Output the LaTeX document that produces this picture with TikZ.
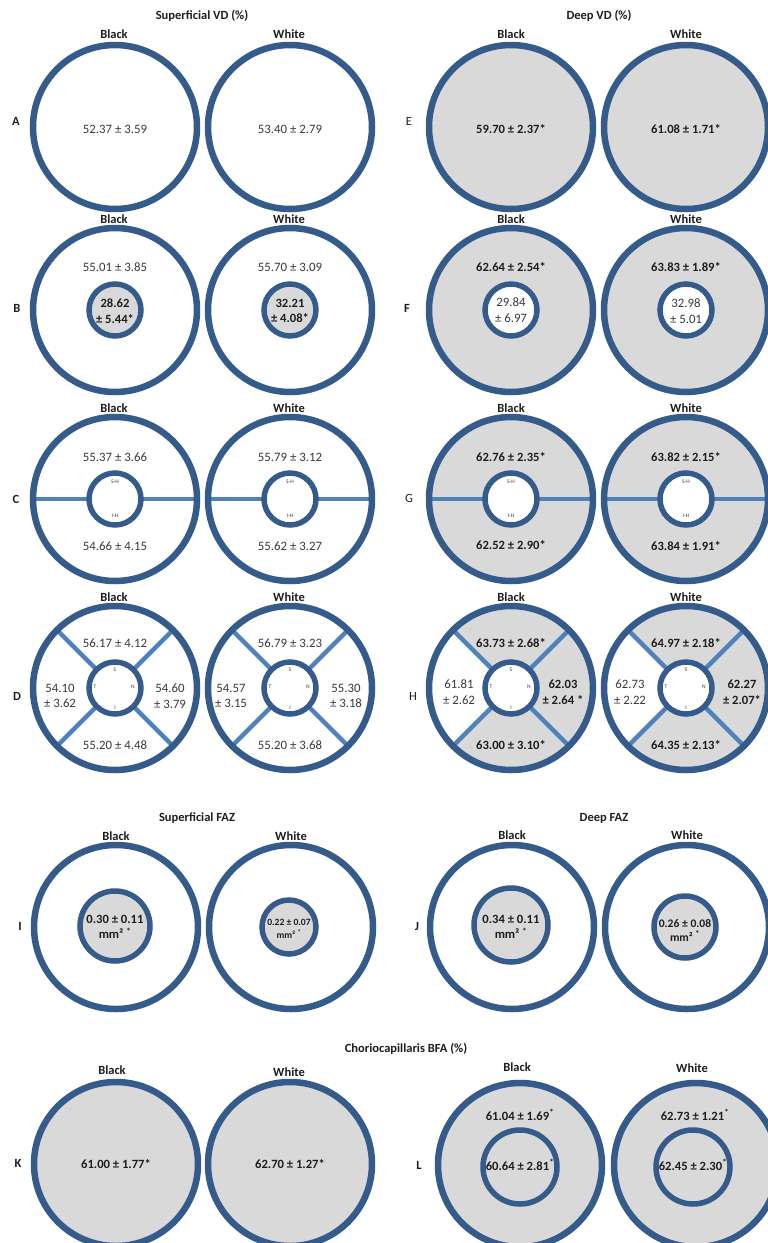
\documentclass[tikz,border=0pt]{standalone}
\usepackage{fontspec}
\setmainfont{Carlito}
\definecolor{ringblue}{HTML}{355B8A}
\definecolor{lineblue}{HTML}{4F81BD}
\definecolor{fillgray}{HTML}{D9D9D9}
\definecolor{txtgray}{HTML}{3A3A3A}
\definecolor{txtdark}{HTML}{1E1E1E}
\tikzset{
  outer/.style={draw=ringblue, line width=6.5pt},
  inner/.style={draw=ringblue, line width=5.5pt},
  divider/.style={draw=lineblue, line width=4.5pt},
  val/.style={font=\fontsize{12.8}{15.5}\selectfont, text=txtgray, align=center, inner sep=0pt},
  bval/.style={font=\fontsize{12.6}{15.5}\selectfont\bfseries, text=txtdark, align=center, inner sep=0pt},
  hdr/.style={font=\fontsize{12.5}{14}\selectfont\bfseries, text=txtdark, inner sep=0pt},
  rowlab/.style={font=\fontsize{12.5}{14}\selectfont\bfseries, text=txtdark, inner sep=0pt},
  rowlabreg/.style={font=\fontsize{12.5}{14}\selectfont, text=txtdark, inner sep=0pt},
  mini/.style={font=\fontsize{5.5}{6}\selectfont, text=txtgray, inner sep=0pt}
}
\newcommand\disk[3]{\fill[#3] (#1,#2) circle[radius=82pt];}
\newcommand\rim[2]{\draw[outer] (#1,#2) circle[radius=82pt];}
\newcommand\hub[4]{\draw[inner,fill=#4] (#1,#2) circle[radius=#3pt];}
\newcommand\hsplit[2]{\draw[divider] (#1-80,#2) -- (#1+80,#2);}
\newcommand\xlines[2]{\draw[divider] (#1,#2) ++(45:80pt) -- ++(225:160pt);
  \draw[divider] (#1,#2) ++(135:80pt) -- ++(-45:160pt);}
\newcommand\temporal[2]{\fill[white] (#1,#2) -- ++(135:82pt) arc[start angle=135, end angle=225, radius=82pt] -- cycle;}
\begin{document}
\begin{tikzpicture}[x=1pt,y=-1pt]
\useasboundingbox (0,0) rectangle (768,1243);
\fill[white] (0,0) rectangle (768,1243);

% ---------- headings ----------
\node[hdr] (tSVD) at (202,16) {Superficial VD (\%)};
\node[hdr] (tDVD) at (599,16) {Deep VD (\%)};
\node[hdr] (tSFAZ) at (197,818) {Superficial FAZ};
\node[hdr] (tDFAZ) at (604,818) {Deep FAZ};
\node[hdr] (tBFA) at (406,1049) {Choriocapillaris BFA (\%)};

% Black / White labels
\foreach \yy/\nm in {34/a,219/b,408/c,597/d}{
  \node[hdr] (bl\nm) at (114,\yy) {Black};
  \node[hdr] (wl\nm) at (289,\yy) {White};
  \node[hdr] (br\nm) at (511,\yy) {Black};
  \node[hdr] (wr\nm) at (686,\yy) {White};
}
\node[hdr] (bli) at (116,836) {Black};
\node[hdr] (wli) at (291,836) {White};
\node[hdr] (brj) at (512,835) {Black};
\node[hdr] (wrj) at (687,835) {White};
\node[hdr] (blk) at (112,1070) {Black};
\node[hdr] (wlk) at (289,1072) {White};
\node[hdr] (brl) at (517,1067) {Black};
\node[hdr] (wrl) at (692,1068) {White};

% row letters
\node[rowlab] (LA) at (16,121) {A};
\node[rowlab] (LB) at (17,308) {B};
\node[rowlab] (LC) at (16,499) {C};
\node[rowlab] (LD) at (17,696) {D};
\node[rowlabreg] (LE) at (409,121) {E};
\node[rowlab] (LF) at (407,308) {F};
\node[rowlabreg] (LG) at (409,498) {G};
\node[rowlabreg] (LH) at (413,696) {H};
\node[rowlab] (LI) at (20,926) {I};
\node[rowlab] (LJ) at (417,926) {J};
\node[rowlab] (LK) at (18,1163) {K};
\node[rowlab] (LL) at (419,1165) {L};

% ---------- Row A / E ----------
\rim{115}{127} \rim{290}{127}
\node[val] (a1) at (115,129) {52.37 ± 3.59};
\node[val] (a2) at (290,129) {53.40 ± 2.79};
\disk{511}{127}{fillgray} \disk{686}{127}{fillgray}
\rim{511}{127} \rim{686}{127}
\node[bval] (e1) at (511,129) {59.70 ± 2.37*};
\node[bval] (e2) at (686,129) {61.08 ± 1.71*};

% ---------- Row B / F ----------
\rim{115}{310} \rim{290}{310}
\hub{115}{310}{26}{fillgray} \hub{290}{310}{26}{fillgray}
\node[val] (b1) at (115,267) {55.01 ± 3.85};
\node[bval] (b2) at (115,311) {28.62\\± 5.44*};
\node[val] (b3) at (290,267) {55.70 ± 3.09};
\node[bval] (b4) at (290,311) {32.21\\± 4.08*};
\disk{511}{310}{fillgray} \disk{686}{310}{fillgray}
\rim{511}{310} \rim{686}{310}
\hub{511}{310}{26}{white} \hub{686}{310}{26}{white}
\node[bval] (f1) at (511,267) {62.64 ± 2.54*};
\node[val] (f2) at (511,310) {29.84\\± 6.97};
\node[bval] (f3) at (686,267) {63.83 ± 1.89*};
\node[val] (f4) at (686,311) {32.98\\± 5.01};

% ---------- Row C / G ----------
\foreach \cx in {115,290}{ \hsplit{\cx}{499} \hub{\cx}{499}{26}{white} \rim{\cx}{499}
  \node[mini] at (\cx,482) {S-H}; \node[mini] at (\cx,516) {I-H}; }
\node[val] (c1) at (115,457) {55.37 ± 3.66};
\node[val] (c2) at (115,546) {54.66 ± 4.15};
\node[val] (c3) at (290,457) {55.79 ± 3.12};
\node[val] (c4) at (290,546) {55.62 ± 3.27};
\foreach \cx in {511,686}{ \disk{\cx}{499}{fillgray} \hsplit{\cx}{499} \hub{\cx}{499}{26}{white} \rim{\cx}{499}
  \node[mini] at (\cx,482) {S-H}; \node[mini] at (\cx,516) {I-H}; }
\node[bval] (g1) at (511,457) {62.76 ± 2.35*};
\node[bval] (g2) at (511,545) {62.52 ± 2.90*};
\node[bval] (g3) at (686,457) {63.82 ± 2.15*};
\node[bval] (g4) at (686,546) {63.84 ± 1.91*};

% ---------- Row D / H ----------
\foreach \cx in {115,290}{ \xlines{\cx}{688} \hub{\cx}{688}{26}{white} \rim{\cx}{688}
  \node[mini] at (\cx,670) {S}; \node[mini] at (\cx,708) {I};
  \node[mini] at (\cx-20,687) {T}; \node[mini] at (\cx+18,687) {N}; }
\node[val] (d1) at (115,643) {56.17 ± 4.12};
\node[val] (d2) at (60,696) {54.10\\± 3.62};
\node[val] (d3) at (170,696) {54.60\\± 3.79};
\node[val] (d4) at (115,745) {55.20 ± 4.48};
\node[val] (d5) at (290,643) {56.79 ± 3.23};
\node[val] (d6) at (231,696) {54.57\\± 3.15};
\node[val] (d7) at (346,696) {55.30\\± 3.18};
\node[val] (d8) at (290,745) {55.20 ± 3.68};
\foreach \cx in {511,686}{ \disk{\cx}{688}{fillgray} \temporal{\cx}{688} \xlines{\cx}{688}
  \hub{\cx}{688}{26}{white} \rim{\cx}{688}
  \node[mini] at (\cx,670) {S}; \node[mini] at (\cx,708) {I};
  \node[mini] at (\cx-20,687) {T}; \node[mini] at (\cx+18,687) {N}; }
\node[bval] (h1) at (511,643) {63.73 ± 2.68*};
\node[val] (h2) at (459,692) {61.81\\± 2.62};
\node[bval] (h3) at (563,692) {62.03\\± 2.64 *};
\node[bval] (h4) at (511,745) {63.00 ± 3.10*};
\node[bval] (h5) at (686,643) {64.97 ± 2.18*};
\node[val] (h6) at (630,692) {62.73\\± 2.22};
\node[bval] (h7) at (742,692) {62.27\\± 2.07*};
\node[bval] (h8) at (686,745) {64.35 ± 2.13*};

% ---------- Row I / J ----------
\rim{116}{927} \rim{291}{927}
\hub{115}{926}{35}{fillgray} \hub{289}{927}{27}{fillgray}
\node[bval] (i1) at (115,927) {0.30 ± 0.11\\mm² \textsuperscript{*}};
\node[bval, font=\fontsize{9.6}{12.5}\selectfont\bfseries] (i2) at (289,929) {0.22 ± 0.07\\mm² \textsuperscript{*}};
\rim{512}{927} \rim{687}{927}
\hub{511}{925}{37}{fillgray} \hub{685}{927}{31}{fillgray}
\node[bval] (j1) at (511,927) {0.34 ± 0.11\\mm² \textsuperscript{*}};
\node[bval, font=\fontsize{11.6}{14}\selectfont\bfseries] (j2) at (685,930) {0.26 ± 0.08\\mm² \textsuperscript{*}};

% ---------- Row K / L ----------
\disk{116}{1164}{fillgray} \disk{290}{1164}{fillgray}
\rim{116}{1164} \rim{290}{1164}
\node[bval] (k1) at (116,1164) {61.00 ± 1.77*};
\node[bval] (k2) at (290,1164) {62.70 ± 1.27*};
\disk{520}{1165}{fillgray} \disk{696}{1165}{fillgray}
\rim{520}{1165} \rim{696}{1165}
\hub{520}{1167}{37}{fillgray} \hub{693}{1167}{37}{fillgray}
\node[bval] (l1) at (520,1115) {61.04 ± 1.69\textsuperscript{*}};
\node[bval] (l2) at (520,1165) {60.64 ± 2.81\textsuperscript{*}};
\node[bval] (l3) at (695,1115) {62.73 ± 1.21\textsuperscript{*}};
\node[bval] (l4) at (693,1165) {62.45 ± 2.30\textsuperscript{*}};
\end{tikzpicture}
\end{document}
